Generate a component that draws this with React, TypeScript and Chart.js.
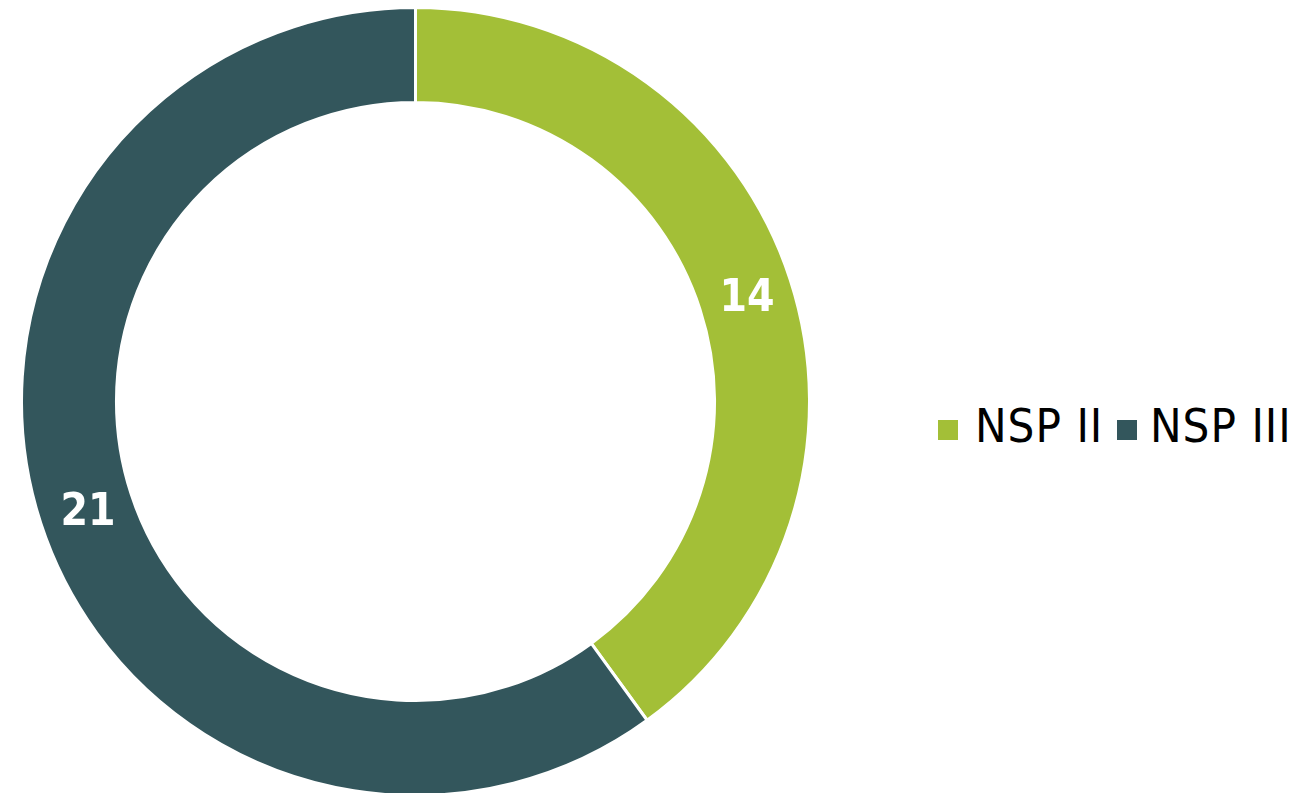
import React, { useEffect, useRef } from "react";
import { Chart, registerables } from "chart.js";

Chart.register(...registerables);

const categories: string[] = ["NSP II", "NSP III"];
const values: number[] = [14, 21];
const colors: string[] = ["#A3BF37", "#33565C"];

const FONT = "'DejaVu Sans Condensed', 'DejaVu Sans', sans-serif";

const labelPlugin = {
  id: "arcLabels",
  afterDatasetsDraw(chart: any) {
    const { ctx } = chart;
    const meta = chart.getDatasetMeta(0);
    ctx.save();
    ctx.fillStyle = "#ffffff";
    ctx.font = `bold 44px ${FONT}`;
    ctx.textAlign = "center";
    ctx.textBaseline = "middle";
    meta.data.forEach((arc: any, i: number) => {
      const p = arc.tooltipPosition();
      ctx.fillText(String(values[i]), p.x + 2, p.y + 5);
    });
    ctx.restore();
  },
};

const legendSquareX: number[] = [938, 1117];
const legendTextX: number[] = [975, 1150];

export default function App() {
  const ref = useRef<HTMLCanvasElement | null>(null);
  useEffect(() => {
    if (!ref.current) return;
    const chart = new Chart(ref.current, {
      type: "doughnut",
      data: {
        labels: categories,
        datasets: [
          {
            data: values,
            backgroundColor: colors,
            borderColor: "#ffffff",
            borderWidth: 3,
            hoverOffset: 0,
            offset: 0,
          },
        ],
      },
      options: {
        animation: false,
        responsive: true,
        maintainAspectRatio: false,
        cutout: "75.9%",
        layout: { padding: 0 },
        plugins: {
          legend: { display: false },
          tooltip: { enabled: false },
        },
      },
      plugins: [labelPlugin],
    });
    return () => chart.destroy();
  }, []);

  return (
    <div
      style={{
        position: "fixed",
        left: 0,
        top: 0,
        width: 1299,
        height: 793,
        overflow: "hidden",
        background: "#ffffff",
      }}
    >
      <div style={{ position: "absolute", left: 20, top: 6, width: 791, height: 791 }}>
        <canvas ref={ref} />
      </div>
      {categories.map((c, i) => (
        <React.Fragment key={c}>
          <span
            style={{
              position: "absolute",
              left: legendSquareX[i],
              top: 420,
              width: 20,
              height: 20,
              background: colors[i],
            }}
          />
          <span
            style={{
              position: "absolute",
              left: legendTextX[i],
              top: 398,
              fontFamily: FONT,
              fontSize: 47,
              lineHeight: "56px",
              letterSpacing: "1px",
              color: "#000000",
              whiteSpace: "nowrap",
            }}
          >
            {c}
          </span>
        </React.Fragment>
      ))}
    </div>
  );
}
